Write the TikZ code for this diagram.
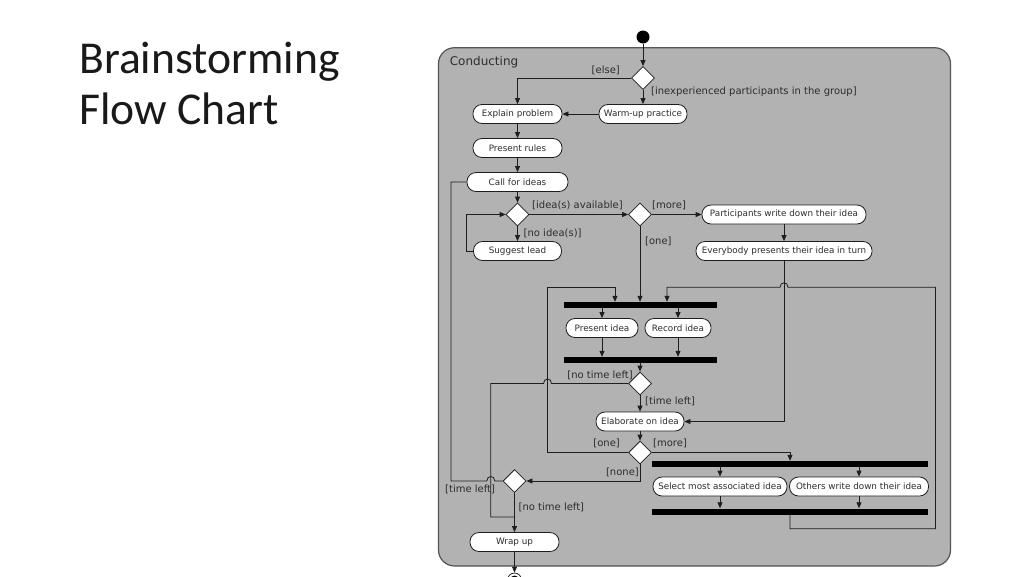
\documentclass[tikz,border=0pt]{standalone}
\usepackage{fontspec}
\setmainfont{DejaVu Sans}
\newfontfamily\titlefont{Carlito}
\usetikzlibrary{shapes.geometric,arrows.meta}
\definecolor{boxgray}{RGB}{178,178,178}
\definecolor{boxline}{RGB}{85,85,85}
\definecolor{ink}{RGB}{30,30,30}
\definecolor{txt}{RGB}{45,45,45}
\begin{document}
\begin{tikzpicture}[x=1pt,y=-1pt,
  act/.style={draw=ink,fill=white,rounded corners=9pt,minimum height=19pt,inner sep=0pt,
    font=\fontsize{8.8}{10}\selectfont,text=txt,line width=0.8pt},
  dec/.style={diamond,draw=ink,fill=white,minimum width=23pt,minimum height=23pt,inner sep=0pt,line width=0.8pt},
  bar/.style={fill=black,inner sep=0pt,minimum height=6pt},
  flow/.style={draw=ink,line width=0.8pt,-{Triangle[length=6pt,width=5pt]}},
  plain/.style={draw=ink,line width=0.8pt},
  lbl/.style={font=\fontsize{10}{11}\selectfont,text=txt,inner sep=0pt},
  ttl/.style={font=\titlefont\fontsize{45.6}{50}\selectfont,text=black!90,inner sep=0pt,anchor=base west},
]
\useasboundingbox (0,0) rectangle (1024,576);
\fill[white] (0,0) rectangle (1024,576);

% title
\node[ttl] (t1) at (79,73) {Brainstorming};
\node[ttl] (t2) at (79,124) {Flow Chart};

% container
\draw[boxline,fill=boxgray,line width=1.2pt,rounded corners=16pt] (438.5,47.7) rectangle (950.5,566);
\node[lbl,anchor=west,font=\fontsize{12}{13}\selectfont] (cond) at (449.6,62) {Conducting};

% nodes
\node[circle,fill=black,minimum size=13pt,inner sep=0pt] (start) at (643,37) {};
\node[dec] (D1) at (643,78) {};
\node[act,minimum width=89pt] (ep) at (517.5,114) {Explain problem};
\node[act,minimum width=88pt] (wp) at (643,114) {Warm-up practice};
\node[act,minimum width=89pt] (pr) at (517.5,148) {Present rules};
\node[act,minimum width=101pt] (ci) at (517.5,182) {Call for ideas};
\node[dec] (D2) at (517.5,214.5) {};
\node[act,minimum width=88pt] (sl) at (517.5,251) {Suggest lead};
\node[dec] (D3) at (640,214.5) {};
\node[act,minimum width=164pt] (pw) at (784,214.5) {Participants write down their idea};
\node[act,minimum width=176pt] (ev) at (784,251) {Everybody presents their idea in turn};
\node[bar,minimum width=153pt] (bar1) at (640.5,305) {};
\node[act,minimum width=72pt] (pi) at (602,328) {Present idea};
\node[act,minimum width=66pt] (ri) at (678,328) {Record idea};
\node[bar,minimum width=153pt] (bar2) at (640.5,360) {};
\node[dec] (D4) at (640,383.5) {};
\node[act,minimum width=88pt] (el) at (640,421.5) {Elaborate on idea};
\node[dec] (D5) at (640,452.5) {};
\node[bar,minimum width=276pt] (bar3) at (790,464) {};
\node[act,minimum width=134pt] (sm) at (720,486.5) {Select most associated idea};
\node[act,minimum width=139pt] (ow) at (859,486.5) {Others write down their idea};
\node[bar,minimum width=276pt] (bar4) at (790,511.5) {};
\node[dec] (D6) at (514.5,481) {};
\node[act,minimum width=89pt] (wu) at (514.5,542) {Wrap up};
\node[circle,draw=ink,fill=white,line width=0.8pt,minimum size=14pt,inner sep=0pt] (end) at (514.5,580) {};
\fill[black] (end.center) circle (4.5pt);

% helper coordinates
\coordinate (lx) at (547.5,287.3);
\coordinate (b1l) at (615,287.3);
\coordinate (b1r) at (667,287.3);
\coordinate (rb) at (935.5,528.7);
\coordinate (rt) at (935.5,287.3);
\coordinate (j1) at (514.5,517);
\coordinate (lp) at (466.5,251);

% connectors
\draw[flow] (start) -- (D1.north);
\draw[flow] (D1.west) -| (ep.north);
\draw[flow] (D1.south) -- (wp.north);
\draw[flow] (wp.west) -- (ep.east);
\draw[flow] (ep.south) -- (pr.north);
\draw[flow] (pr.south) -- (ci.north);
\draw[flow] (ci.south) -- (D2.north);
\draw[flow] (D2.south) -- (sl.north);
\draw[flow] (sl.west) -- (lp) |- (D2.west);
\draw[flow] (D2.east) -- (D3.west);
\draw[flow] (D3.east) -- (pw.west);
\draw[flow] (D3.south) -- (bar1.north -| D3.south);
\draw[flow] (pw.south) -- (ev.north);
\draw[flow] (ev.south) |- (el.east);
\draw[flow] (bar1.south -| pi.north) -- (pi.north);
\draw[flow] (bar1.south -| ri.north) -- (ri.north);
\draw[flow] (pi.south) -- (bar2.north -| pi.south);
\draw[flow] (ri.south) -- (bar2.north -| ri.south);
\draw[flow] (bar2.south -| D4.north) -- (D4.north);
\draw[flow] (D4.south) -- (el.north);
\draw[plain] (D4.west) -- (551.5,383.5) .. controls (551.5,377.5) and (543.5,377.5) .. (543.5,383.5)
  -- (490.8,383.5) -- (490.8,517) -- (j1);
\draw[flow] (el.south) -- (D5.north);
\draw[flow] (D5.west) -| (lx) -- (b1l) -- (bar1.north -| b1l);
\draw[flow] (D5.east) -| (bar3.north);
\draw[flow] (bar3.south -| sm.north) -- (sm.north);
\draw[flow] (bar3.south -| ow.north) -- (ow.north);
\draw[flow] (sm.south) -- (bar4.north -| sm.south);
\draw[flow] (ow.south) -- (bar4.north -| ow.south);
\draw[flow] (bar4.south) |- (rb) -- (rt) -- (788,287.3) .. controls (788,281.3) and (780,281.3) .. (780,287.3)
  -- (b1r) -- (bar1.north -| b1r);
\draw[flow] (D5.south) |- (D6.east);
\draw[plain] (D6.west) -- (494.8,481) .. controls (494.8,475) and (486.8,475) .. (486.8,481)
  -- (451,481) -- (451,182) -- (ci.west);
\draw[flow] (D6.south) -- (wu.north);
\draw[flow] (wu.south) -- (end.north);

% guard labels
\node[lbl,anchor=east] (g1) at (620,70.5) {[else]};
\node[lbl,anchor=west] (g2) at (651,92) {[inexperienced participants in the group]};
\node[lbl,anchor=west] (g3) at (523.5,233) {[no idea(s)]};
\node[lbl] (g4) at (577.5,205) {[idea(s) available]};
\node[lbl,anchor=west] (g5) at (652,205) {[more]};
\node[lbl,anchor=west] (g6) at (645,241) {[one]};
\node[lbl,anchor=east] (g7) at (633,375) {[no time left]};
\node[lbl,anchor=west] (g8) at (645,401) {[time left]};
\node[lbl,anchor=east] (g9) at (620,443) {[one]};
\node[lbl,anchor=west] (g10) at (653,443) {[more]};
\node[lbl,anchor=east] (g11) at (639,472) {[none]};
\node[lbl,anchor=west] (g12) at (445,489) {[time left]};
\node[lbl,anchor=west] (g13) at (518.5,507.5) {[no time left]};
\end{tikzpicture}
\end{document}
